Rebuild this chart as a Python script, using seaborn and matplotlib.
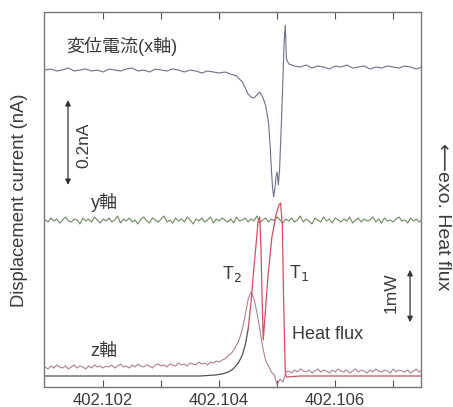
import numpy as np
import pandas as pd
import matplotlib
matplotlib.use("Agg")
import matplotlib.pyplot as plt
import seaborn as sns

# time axis (s), values in arbitrary vertical units (0 = bottom frame)
x_left_t = np.linspace(402.1010, 402.1042, 33)
x_left = [317, 318, 316, 317, 319, 316, 317, 318, 316, 317, 315, 318, 317, 316, 318, 319,
          316, 317, 315, 318, 317, 316, 318, 317, 315, 317, 316, 314, 316, 315, 314, 315, 313]
x_feat_t = [402.1043, 402.1044, 402.1045, 402.10455, 402.1046, 402.10465, 402.1047,
            402.10475, 402.1048, 402.10485, 402.10488, 402.1049, 402.10492, 402.10494,
            402.10496, 402.10498, 402.1050, 402.10502, 402.10504, 402.10506, 402.10508,
            402.1051, 402.10512, 402.10514, 402.10516, 402.1052]
x_feat = [311, 305, 293, 290, 289, 292, 295, 290, 282, 265, 240, 218, 200, 190,
          198, 210, 215, 202, 215, 245, 275, 310, 345, 362, 328, 323]
x_right_t = np.linspace(402.1053, 402.1075, 23)
x_right = [321, 320, 322, 319, 321, 320, 318, 321, 320, 322, 319, 320, 321, 318, 320,
           319, 321, 320, 319, 321, 320, 318, 320]

grid_t = np.linspace(402.1010, 402.1075, 131)
y_axis = [167, 165, 169, 166, 168, 164, 167, 170, 166, 165, 168, 167, 163, 169, 166, 168, 165, 170, 167, 164,
          168, 166, 169, 165, 167, 171, 164, 168, 166, 169, 165, 167, 163, 168, 170, 166, 164, 169, 167, 165,
          168, 171, 165, 167, 164, 169, 166, 168, 165, 170, 167, 163, 168, 166, 169, 165, 167, 170, 164, 168,
          166, 169, 167, 165, 168, 164, 170, 166, 167, 169, 165, 168, 166, 171, 164, 167, 169, 165, 168, 166,
          170, 167, 164, 168, 166, 169, 165, 167, 171, 165, 168, 166, 163, 169, 167, 165, 170, 166, 168, 164,
          169, 167, 165, 168, 166, 170, 164, 167, 169, 165, 168, 166, 167, 170, 165, 168, 164, 169, 166, 167,
          165, 168, 170, 166, 167, 164, 169, 166, 168, 165, 167]
z_axis = [20, 18, 21, 19, 22, 20, 19, 21, 18, 20, 22, 19, 21, 20, 18, 21, 19, 22, 20, 21,
          19, 21, 20, 22, 19, 21, 23, 20, 21, 19, 22, 20, 23, 21, 20, 22, 21, 19, 22, 23,
          21, 22, 20, 23, 22, 21, 24, 22, 23, 21, 24, 23, 22, 25, 23, 24, 22, 25, 24, 26,
          25, 27, 28, 31, 33, 37, 42, 48, 58, 72,
          88, 95, 88, 75, 58, 40, 27, 21, 15, 12,
          2, 8, 5, 15, 16, 14, 17, 15, 18, 16,
          15, 17, 14, 16, 18, 15, 17, 16, 14, 17, 15, 18, 16, 15, 17, 14, 16, 18, 15, 17,
          16, 14, 17, 15, 18, 16, 15, 17, 16, 14, 18, 15, 17, 16, 15, 17, 14, 16, 18, 15, 17]

hf_t = [402.10100, 402.10281, 402.10367, 402.10393, 402.10405, 402.10416, 402.10424,
        402.10433, 402.10440, 402.10445, 402.10450, 402.10455, 402.10460, 402.10464,
        402.10467, 402.10470, 402.10472, 402.10474, 402.10476, 402.10479, 402.10484,
        402.10491, 402.10498, 402.10503, 402.10506, 402.10509, 402.10511, 402.10514,
        402.10516, 402.10540, 402.10750]
hf = [11, 11, 11, 12, 13, 15, 18, 24, 32, 42, 58, 85, 120, 145, 165, 170, 140, 90, 47,
      70, 110, 150, 172, 182, 184, 160, 90, 15, 10, 11, 11]

tick_pos = [402.102, 402.104, 402.106]
tick_lab = ["402.102", "402.104", "402.106"]
minor_pos = [402.103, 402.105, 402.107]

df_x = pd.DataFrame({"t": np.concatenate([x_left_t, x_feat_t, x_right_t]),
                     "v": x_left + x_feat + x_right})
df_grid = pd.DataFrame({"t": grid_t, "y": y_axis, "z": z_axis})
df_hf = pd.DataFrame({"t": hf_t, "v": hf})

sns.set_theme(style="white")
plt.rcParams["font.family"] = ["Liberation Sans", "Noto Sans CJK JP", "DejaVu Sans"]
txt = "#3a3a3a"

fig = plt.figure(figsize=(4.53, 4.07), dpi=100)
ax = fig.add_axes([44 / 453, 20 / 407, 377 / 453, 375 / 407])

sns.lineplot(data=df_x, x="t", y="v", ax=ax, color="#6b7088", lw=0.8, estimator=None, sort=False)
sns.lineplot(data=df_grid, x="t", y="y", ax=ax, color="#6e8a62", lw=0.8, estimator=None)
sns.lineplot(data=df_grid, x="t", y="z", ax=ax, color="#b08090", lw=0.8, estimator=None)
sns.lineplot(data=df_hf[df_hf.t <= 402.10450], x="t", y="v", ax=ax, color="#505050", lw=0.9, estimator=None)
sns.lineplot(data=df_hf[df_hf.t >= 402.10450], x="t", y="v", ax=ax, color="#d2505e", lw=0.9,
             estimator=None, sort=False)

ax.set_xlim(402.10098, 402.10748)
ax.set_ylim(0, 375)
ax.set_yticks([])
ax.set_xticks(tick_pos)
ax.set_xticklabels(tick_lab)
ax.set_xticks(minor_pos, minor=True)
ax.tick_params(axis="x", which="both", direction="in", length=5, width=0.8, color="#555555",
               top=True, bottom=True, labelsize=12, labelcolor=txt, pad=4)
ax.set_xlabel("")
ax.set_ylabel("")
for s in ax.spines.values():
    s.set_color("#777777")
    s.set_linewidth(1.0)

tr = ax.transAxes
ax.text(0.207, 0.909, "変位電流(x軸)", transform=tr, ha="center", va="center", fontsize=13, color=txt)
ax.text(0.159, 0.493, "y軸", transform=tr, ha="center", va="center", fontsize=13, color=txt)
ax.text(0.159, 0.096, "z軸", transform=tr, ha="center", va="center", fontsize=13, color=txt)
ax.text(0.106, 0.645, "0.2nA", transform=tr, ha="center", va="center", rotation=90, fontsize=12.5, color=txt)
ax.text(0.920, 0.251, "1mW", transform=tr, ha="center", va="center", rotation=90, fontsize=12.5, color=txt)
ax.text(0.499, 0.301, "T$_2$", transform=tr, ha="center", va="center", fontsize=13, color=txt)
ax.text(0.676, 0.304, "T$_1$", transform=tr, ha="center", va="center", fontsize=13, color=txt)
ax.text(0.751, 0.139, "Heat flux", transform=tr, ha="center", va="center", fontsize=13, color=txt)

arrow = dict(arrowstyle="<|-|>", color="#333333", lw=0.9, mutation_scale=8, shrinkA=0, shrinkB=0)
ax.annotate("", xy=(0.0637, 0.765), xytext=(0.0637, 0.539), xycoords=tr, textcoords=tr, arrowprops=arrow)
ax.annotate("", xy=(0.971, 0.312), xytext=(0.971, 0.173), xycoords=tr, textcoords=tr, arrowprops=arrow)

fig.text(0.044, 0.509, "Displacement current (nA)", rotation=90, ha="center", va="center",
         fontsize=13.2, color=txt)
fig.text(0.976, 0.467, "⟵exo. Heat flux", rotation=-90, ha="center", va="center",
         fontsize=14, color=txt)

fig.savefig("out.png", dpi=100)
